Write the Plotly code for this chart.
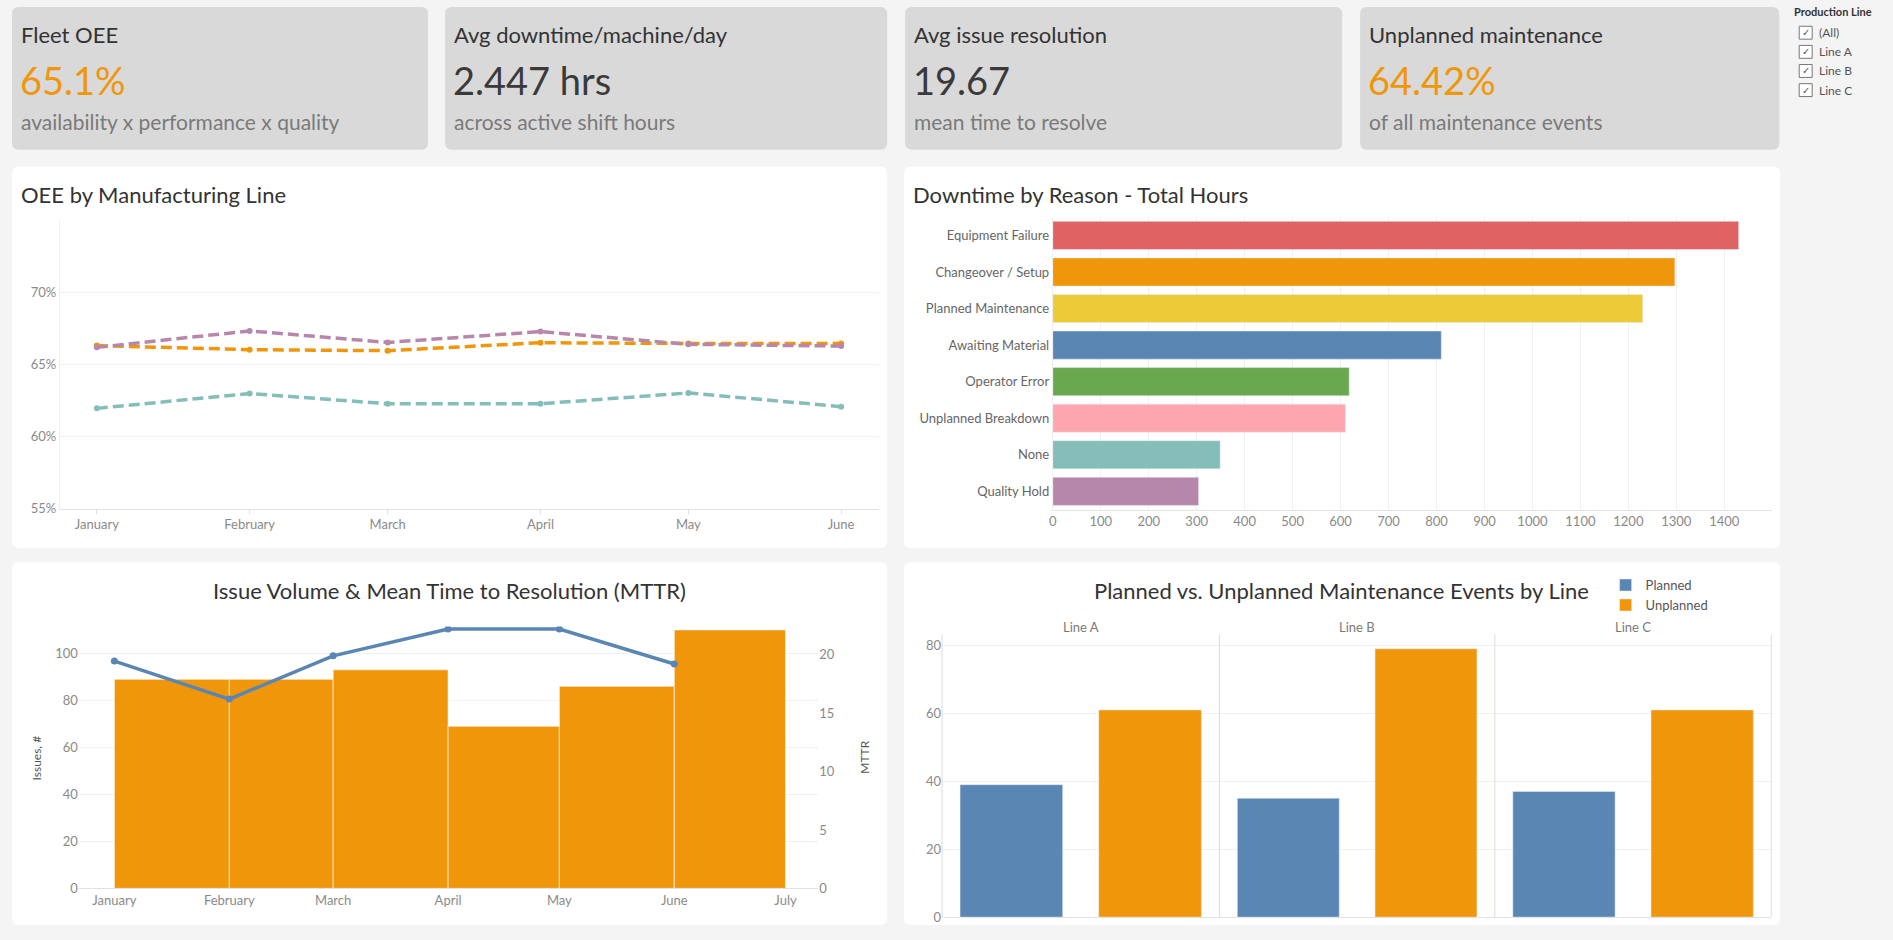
import pandas as pd
import plotly.graph_objects as go

# ---------------- data ----------------
months = ["2023-01-01", "2023-02-01", "2023-03-01", "2023-04-01", "2023-05-01", "2023-06-01"]
oee_line_a = [66.30, 66.02, 65.95, 66.50, 66.45, 66.45]
oee_line_b = [61.95, 62.98, 62.27, 62.27, 63.02, 62.07]
oee_line_c = [66.18, 67.32, 66.52, 67.27, 66.39, 66.27]
oee_ticks = [55, 60, 65, 70]

reasons = ["Equipment Failure", "Changeover / Setup", "Planned Maintenance", "Awaiting Material",
           "Operator Error", "Unplanned Breakdown", "None", "Quality Hold"]
downtime_hours = [1430, 1297, 1230, 810, 618, 610, 349, 304]
reason_colors = ["#E06363", "#F0960A", "#ECCA38", "#5A86B3", "#6AA84F", "#FDA6AF", "#85BEB9", "#B787AB"]

issue_months = ["2023-01-01", "2023-02-01", "2023-03-01", "2023-04-01", "2023-05-01", "2023-06-01"]
issue_ticks = ["2023-01-01", "2023-02-01", "2023-03-01", "2023-04-01", "2023-05-01", "2023-06-01", "2023-07-01"]
issues = [89, 89, 93, 69, 86, 110]
mttr = [19.45, 16.2, 19.9, 22.2, 22.2, 19.2]

prod_lines = ["Line A", "Line B", "Line C"]
planned = [39, 35, 37]
unplanned = [61, 79, 61]

kpi_titles = ["Fleet OEE", "Avg downtime/machine/day", "Avg issue resolution", "Unplanned maintenance"]
kpi_values = ["65.1%", "2.447 hrs", "19.67", "64.42%"]
kpi_subs = ["availability x performance x quality", "across active shift hours",
            "mean time to resolve", "of all maintenance events"]
filter_items = ["(All)", "Line A", "Line B", "Line C"]

# ---------------- helpers ----------------
W, H = 1893, 940
FONT = "Lato, Roboto, sans-serif"
ORANGE = "#F0960A"
BLUE = "#5A86B3"
TICK = dict(size=13, color="#8A8A8A", family=FONT)
GRID = "#F0F0F0"
AXL = "#E2E2E2"


def fx(px):
    return px / W


def fy(py):
    return 1 - py / H


def rrect(x0, y0, x1, y1, r, fill, line="rgba(0,0,0,0)"):
    pts = [
        ("M", x0 + r, y0), ("L", x1 - r, y0), ("Q", x1, y0, x1, y0 + r),
        ("L", x1, y1 - r), ("Q", x1, y1, x1 - r, y1), ("L", x0 + r, y1),
        ("Q", x0, y1, x0, y1 - r), ("L", x0, y0 + r), ("Q", x0, y0, x0 + r, y0),
    ]
    s = ""
    for p in pts:
        cmd = p[0]
        coords = p[1:]
        parts = []
        for i in range(0, len(coords), 2):
            parts.append(f"{fx(coords[i]):.6f},{fy(coords[i + 1]):.6f}")
        s += cmd + " " + " ".join(parts) + " "
    s += "Z"
    return dict(type="path", path=s, xref="paper", yref="paper", fillcolor=fill,
                line=dict(color=line, width=1), layer="below")


shapes = []
annotations = []


def text(x, y, t, size, color, xanchor="left", yanchor="middle", angle=0, family=FONT):
    annotations.append(dict(x=fx(x), y=fy(y), xref="paper", yref="paper", text=t, showarrow=False,
                            xanchor=xanchor, yanchor=yanchor, textangle=angle,
                            font=dict(size=size, color=color, family=family)))


# ---------------- figure ----------------
fig = go.Figure()

# OEE line chart
line_colors = [ORANGE, "#85BEB9", "#B787AB"]
for name, vals, col in zip(prod_lines, [oee_line_a, oee_line_b, oee_line_c], line_colors):
    fig.add_trace(go.Scatter(x=months, y=vals, mode="lines+markers", name=name, showlegend=False,
                             line=dict(color=col, width=3.5, dash="11px,5px"),
                             marker=dict(size=6, color=col), xaxis="x", yaxis="y"))

# Downtime horizontal bars
fig.add_trace(go.Bar(x=downtime_hours, y=reasons, orientation="h", marker=dict(color=reason_colors),
                     width=0.77, showlegend=False, xaxis="x2", yaxis="y2"))

# Issue volume bars (month-long) + MTTR line
ms = pd.to_datetime(issue_months)
widths = [(d + pd.offsets.MonthBegin(1) - d).days * 86400000 for d in ms]
fig.add_trace(go.Bar(x=issue_months, y=issues, width=widths, offset=0, showlegend=False,
                     marker=dict(color=ORANGE, line=dict(color="#FFFFFF", width=0.6)),
                     xaxis="x3", yaxis="y3"))
fig.add_trace(go.Scatter(x=issue_months, y=mttr, mode="lines+markers", showlegend=False,
                         line=dict(color=BLUE, width=3.5), marker=dict(size=7, color=BLUE),
                         xaxis="x3", yaxis="y4"))

# Planned vs unplanned facets
facet_axes = ["x5", "x6", "x7"]
for i, (ln, p, u) in enumerate(zip(prod_lines, planned, unplanned)):
    fig.add_trace(go.Bar(x=["Planned"], y=[p], name="Planned", marker_color=BLUE, width=0.74,
                         showlegend=(i == 0), legendgroup="p", xaxis=facet_axes[i], yaxis="y5"))
    fig.add_trace(go.Bar(x=["Unplanned"], y=[u], name="Unplanned", marker_color=ORANGE, width=0.74,
                         showlegend=(i == 0), legendgroup="u", xaxis=facet_axes[i], yaxis="y5"))

# ---------------- background cards / panels ----------------
cards = [(8, 425), (442, 885), (903, 1341), (1359, 1779)]
for (x0, x1) in cards:
    shapes.append(rrect(x0, 7, x1, 151, 7, "#D9D9D9"))
panels = [(8, 168, 885, 553), (902, 168, 1780, 553), (8, 567, 885, 933), (902, 567, 1780, 933)]
for (x0, y0, x1, y1) in panels:
    shapes.append(rrect(x0, y0, x1, y1, 7, "#FFFFFF"))

# KPI text
value_colors = [ORANGE, "#3A3A3A", "#3A3A3A", ORANGE]
for (x0, x1), t, v, s, vc in zip(cards, kpi_titles, kpi_values, kpi_subs, value_colors):
    text(x0 + 7, 35, t, 22, "#333333")
    text(x0 + 6, 81, v, 38, vc)
    text(x0 + 7, 123, s, 21, "#7A7A7A")

# Panel titles
text(15, 196, "OEE by Manufacturing Line", 22, "#333333")
text(909, 196, "Downtime by Reason - Total Hours", 22, "#333333")
text(446, 596, "Issue Volume &amp; Mean Time to Resolution (MTTR)", 22, "#333333", xanchor="center")
text(1340, 596, "Planned vs. Unplanned Maintenance Events by Line", 22, "#333333", xanchor="center")

# axis titles for issue chart
text(33, 764, "Issues, #", 12, "#555555", xanchor="center", angle=-90)
text(862, 764, "MTTR", 12, "#555555", xanchor="center", angle=-90)

# facet headers and dividers
facet_bounds = [(940, 1218), (1218, 1494), (1494, 1771)]
for (a, b), ln in zip(facet_bounds, prod_lines):
    text((a + b) / 2, 632, ln, 13, "#7A7A7A", xanchor="center")
for xp in [940, 1218, 1494, 1771]:
    shapes.append(dict(type="line", xref="paper", yref="paper", x0=fx(xp), x1=fx(xp),
                       y0=fy(640), y1=fy(925), line=dict(color="#DDDDDD", width=1)))

# filter panel
text(1792, 12, "<b>Production Line</b>", 11, "#333333")
for i, item in enumerate(filter_items):
    cy = 33 + i * 19.3
    shapes.append(dict(type="rect", xref="paper", yref="paper", x0=fx(1799), x1=fx(1812),
                       y0=fy(cy - 6.5), y1=fy(cy + 6.5), line=dict(color="#777777", width=1),
                       fillcolor="#FFFFFF"))
    text(1805.5, cy, "✓", 10, "#555555", xanchor="center", family="DejaVu Sans")
    text(1817, cy, item, 12, "#555555")

# ---------------- layout ----------------
fig.update_layout(
    width=W, height=H, margin=dict(l=0, r=0, t=0, b=0),
    paper_bgcolor="#F4F4F4", plot_bgcolor="#FFFFFF",
    font=dict(family=FONT, color="#555555"),
    barmode="overlay", bargap=0.26,
    shapes=shapes, annotations=annotations,
    legend=dict(x=fx(1605), y=fy(575), xanchor="left", yanchor="top", bgcolor="rgba(0,0,0,0)",
                font=dict(size=13, color="#555555", family=FONT), tracegroupgap=0, itemwidth=30),
    xaxis=dict(domain=[fx(56), fx(877)], anchor="y", type="date",
               range=["2022-12-24 12:00", "2023-06-08 17:00"], tickvals=months, tickformat="%B",
               showgrid=False, showline=True, linecolor=AXL, ticks="outside", ticklen=4,
               tickcolor=AXL, tickfont=TICK, zeroline=False),
    yaxis=dict(domain=[fy(513), fy(222)], anchor="x", range=[55, 75], tickvals=oee_ticks,
               ticktext=[f"{v}%" for v in oee_ticks], gridcolor=GRID, showline=True,
               linecolor="#F0F0F0", tickfont=TICK, zeroline=False),
    xaxis2=dict(domain=[fx(1051), fx(1772)], anchor="y2", range=[0, 1500],
                tickvals=list(range(0, 1500, 100)), gridcolor=GRID, showline=True, linecolor=AXL,
                tickfont=TICK, zeroline=False),
    yaxis2=dict(domain=[fy(514), fy(219)], anchor="x2", autorange="reversed",
                tickfont=dict(size=13, color="#666666", family=FONT), showline=True,
                linecolor="#EEEEEE", ticks="", showgrid=False),
    xaxis3=dict(domain=[fx(75), fx(816)], anchor="y3", type="date",
                range=["2022-12-22 10:00", "2023-07-09 20:00"], tickvals=issue_ticks,
                tickformat="%B", showgrid=False, showline=True, linecolor=AXL, tickfont=TICK,
                zeroline=False),
    yaxis3=dict(domain=[fy(896), fy(632)], anchor="x3", range=[0, 111.4],
                tickvals=[0, 20, 40, 60, 80, 100], gridcolor=GRID, tickfont=TICK, zeroline=False),
    yaxis4=dict(overlaying="y3", side="right", anchor="x3", range=[0, 22.4],
                tickvals=[0, 5, 10, 15, 20], showgrid=False, tickfont=TICK, zeroline=False),
    xaxis5=dict(domain=[fx(940), fx(1218)], anchor="y5", showticklabels=False, showline=True,
                linecolor=AXL, showgrid=False),
    xaxis6=dict(domain=[fx(1218), fx(1494)], anchor="y5", showticklabels=False, showline=True,
                linecolor=AXL, showgrid=False),
    xaxis7=dict(domain=[fx(1494), fx(1771)], anchor="y5", showticklabels=False, showline=True,
                linecolor=AXL, showgrid=False),
    yaxis5=dict(domain=[fy(925), fy(640)], anchor="x5", range=[0, 83.2],
                tickvals=[0, 20, 40, 60, 80], gridcolor=GRID, tickfont=TICK, zeroline=False),
)

fig.write_html("out.html", config={"displayModeBar": False},
               post_script="document.body.style.margin='0px';document.body.style.overflow='hidden';")
